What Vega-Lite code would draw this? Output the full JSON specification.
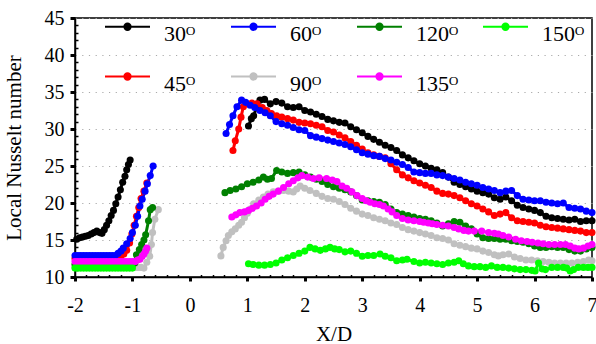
{
"$schema":"https://vega.github.io/schema/vega-lite/v6.json",
"width":517,"height":259,
"autosize":{"type":"none"},
"padding":{"left":75,"top":18,"right":4,"bottom":67},
"config":{"view":{"stroke":"#000","strokeWidth":1.5},"font":"Liberation Serif"},
"data":{"values":[
{"s":"30","g":"L","x":-1.97,"y":15.1},{"s":"30","g":"L","x":-1.92,"y":15.3},{"s":"30","g":"L","x":-1.87,"y":15.4},{"s":"30","g":"L","x":-1.82,"y":15.5},{"s":"30","g":"L","x":-1.77,"y":15.6},{"s":"30","g":"L","x":-1.72,"y":15.8},{"s":"30","g":"L","x":-1.67,"y":16.0},{"s":"30","g":"L","x":-1.62,"y":16.2},{"s":"30","g":"L","x":-1.57,"y":16.0},{"s":"30","g":"L","x":-1.53,"y":15.9},{"s":"30","g":"L","x":-1.49,"y":16.4},{"s":"30","g":"L","x":-1.45,"y":17.0},{"s":"30","g":"L","x":-1.41,"y":17.6},{"s":"30","g":"L","x":-1.37,"y":18.3},{"s":"30","g":"L","x":-1.33,"y":19.0},{"s":"30","g":"L","x":-1.29,"y":19.9},{"s":"30","g":"L","x":-1.25,"y":20.8},{"s":"30","g":"L","x":-1.21,"y":21.8},{"s":"30","g":"L","x":-1.17,"y":22.8},{"s":"30","g":"L","x":-1.13,"y":23.6},{"s":"30","g":"L","x":-1.10,"y":24.5},{"s":"30","g":"L","x":-1.07,"y":25.2},{"s":"30","g":"L","x":-1.04,"y":25.8},
{"s":"30","g":"R","x":1.02,"y":30.4},{"s":"30","g":"R","x":1.07,"y":31.4},{"s":"30","g":"R","x":1.11,"y":31.8},{"s":"30","g":"R","x":1.16,"y":32.9},{"s":"30","g":"R","x":1.22,"y":33.9},{"s":"30","g":"R","x":1.3,"y":34.0},{"s":"30","g":"R","x":1.4,"y":33.4},{"s":"30","g":"R","x":1.5,"y":33.7},{"s":"30","g":"R","x":1.6,"y":33.5},{"s":"30","g":"R","x":1.7,"y":33.0},{"s":"30","g":"R","x":1.8,"y":32.9},{"s":"30","g":"R","x":1.9,"y":33.0},{"s":"30","g":"R","x":2.0,"y":32.5},{"s":"30","g":"R","x":2.1,"y":32.3},{"s":"30","g":"R","x":2.2,"y":32.0},{"s":"30","g":"R","x":2.3,"y":31.7},{"s":"30","g":"R","x":2.4,"y":31.3},{"s":"30","g":"R","x":2.5,"y":31.1},{"s":"30","g":"R","x":2.6,"y":30.9},{"s":"30","g":"R","x":2.7,"y":30.8},{"s":"30","g":"R","x":2.8,"y":30.3},{"s":"30","g":"R","x":2.9,"y":29.9},{"s":"30","g":"R","x":3.0,"y":29.5},{"s":"30","g":"R","x":3.1,"y":29.0},{"s":"30","g":"R","x":3.2,"y":28.6},{"s":"30","g":"R","x":3.3,"y":28.2},{"s":"30","g":"R","x":3.4,"y":27.8},{"s":"30","g":"R","x":3.5,"y":27.5},{"s":"30","g":"R","x":3.6,"y":27.1},{"s":"30","g":"R","x":3.7,"y":26.5},{"s":"30","g":"R","x":3.8,"y":26.1},{"s":"30","g":"R","x":3.9,"y":25.7},{"s":"30","g":"R","x":4.0,"y":25.3},{"s":"30","g":"R","x":4.1,"y":25.0},{"s":"30","g":"R","x":4.2,"y":24.7},{"s":"30","g":"R","x":4.3,"y":24.5},{"s":"30","g":"R","x":4.4,"y":24.1},{"s":"30","g":"R","x":4.5,"y":23.5},{"s":"30","g":"R","x":4.6,"y":22.8},{"s":"30","g":"R","x":4.7,"y":22.5},{"s":"30","g":"R","x":4.8,"y":22.2},{"s":"30","g":"R","x":4.9,"y":21.9},{"s":"30","g":"R","x":5.0,"y":21.6},{"s":"30","g":"R","x":5.1,"y":21.4},{"s":"30","g":"R","x":5.2,"y":21.2},{"s":"30","g":"R","x":5.3,"y":20.7},{"s":"30","g":"R","x":5.4,"y":20.5},{"s":"30","g":"R","x":5.5,"y":20.8},{"s":"30","g":"R","x":5.6,"y":20.3},{"s":"30","g":"R","x":5.7,"y":19.7},{"s":"30","g":"R","x":5.8,"y":19.4},{"s":"30","g":"R","x":5.9,"y":19.2},{"s":"30","g":"R","x":6.0,"y":19.0},{"s":"30","g":"R","x":6.1,"y":18.7},{"s":"30","g":"R","x":6.2,"y":18.2},{"s":"30","g":"R","x":6.3,"y":18.0},{"s":"30","g":"R","x":6.4,"y":17.9},{"s":"30","g":"R","x":6.5,"y":17.8},{"s":"30","g":"R","x":6.6,"y":17.7},{"s":"30","g":"R","x":6.7,"y":17.8},{"s":"30","g":"R","x":6.8,"y":17.5},{"s":"30","g":"R","x":6.9,"y":17.6},{"s":"30","g":"R","x":7.0,"y":17.6},
{"s":"45","g":"L","x":-2,"y":12.5},{"s":"45","g":"L","x":-1.95,"y":12.5},{"s":"45","g":"L","x":-1.9,"y":12.5},{"s":"45","g":"L","x":-1.85,"y":12.5},{"s":"45","g":"L","x":-1.8,"y":12.5},{"s":"45","g":"L","x":-1.75,"y":12.5},{"s":"45","g":"L","x":-1.7,"y":12.5},{"s":"45","g":"L","x":-1.65,"y":12.5},{"s":"45","g":"L","x":-1.6,"y":12.5},{"s":"45","g":"L","x":-1.55,"y":12.5},{"s":"45","g":"L","x":-1.5,"y":12.5},{"s":"45","g":"L","x":-1.45,"y":12.5},{"s":"45","g":"L","x":-1.4,"y":12.5},{"s":"45","g":"L","x":-1.35,"y":12.5},{"s":"45","g":"L","x":-1.3,"y":12.5},{"s":"45","g":"L","x":-1.25,"y":12.5},{"s":"45","g":"L","x":-1.2,"y":12.8},{"s":"45","g":"L","x":-1.15,"y":13.1},{"s":"45","g":"L","x":-1.1,"y":13.6},{"s":"45","g":"L","x":-1.05,"y":14.6},{"s":"45","g":"L","x":-1.01,"y":15.8},{"s":"45","g":"L","x":-0.97,"y":17.0},{"s":"45","g":"L","x":-0.93,"y":18.2},{"s":"45","g":"L","x":-0.89,"y":19.4},{"s":"45","g":"L","x":-0.85,"y":20.6},{"s":"45","g":"L","x":-0.8,"y":21.6},{"s":"45","g":"L","x":-0.75,"y":22.7},
{"s":"45","g":"R","x":0.75,"y":27.1},{"s":"45","g":"R","x":0.79,"y":28.4},{"s":"45","g":"R","x":0.85,"y":30.0},{"s":"45","g":"R","x":0.89,"y":31.6},{"s":"45","g":"R","x":0.93,"y":33.0},{"s":"45","g":"R","x":0.99,"y":33.4},{"s":"45","g":"R","x":1.08,"y":33.5},{"s":"45","g":"R","x":1.17,"y":33.4},{"s":"45","g":"R","x":1.26,"y":32.9},{"s":"45","g":"R","x":1.34,"y":32.5},{"s":"45","g":"R","x":1.42,"y":32.1},{"s":"45","g":"R","x":1.51,"y":31.8},{"s":"45","g":"R","x":1.6,"y":31.6},{"s":"45","g":"R","x":1.7,"y":31.4},{"s":"45","g":"R","x":1.8,"y":31.2},{"s":"45","g":"R","x":1.9,"y":30.9},{"s":"45","g":"R","x":2.0,"y":30.8},{"s":"45","g":"R","x":2.1,"y":30.7},{"s":"45","g":"R","x":2.2,"y":30.5},{"s":"45","g":"R","x":2.3,"y":30.3},{"s":"45","g":"R","x":2.4,"y":29.8},{"s":"45","g":"R","x":2.5,"y":29.6},{"s":"45","g":"R","x":2.6,"y":29.2},{"s":"45","g":"R","x":2.7,"y":28.8},{"s":"45","g":"R","x":2.8,"y":28.3},{"s":"45","g":"R","x":2.9,"y":27.8},{"s":"45","g":"R","x":3.0,"y":27.3},{"s":"45","g":"R","x":3.1,"y":26.8},{"s":"45","g":"R","x":3.2,"y":26.5},{"s":"45","g":"R","x":3.3,"y":26.3},{"s":"45","g":"R","x":3.4,"y":26.1},{"s":"45","g":"R","x":3.5,"y":25.3},{"s":"45","g":"R","x":3.6,"y":24.5},{"s":"45","g":"R","x":3.7,"y":23.8},{"s":"45","g":"R","x":3.8,"y":23.4},{"s":"45","g":"R","x":3.9,"y":23.0},{"s":"45","g":"R","x":4.0,"y":22.7},{"s":"45","g":"R","x":4.1,"y":22.4},{"s":"45","g":"R","x":4.2,"y":22.1},{"s":"45","g":"R","x":4.3,"y":21.6},{"s":"45","g":"R","x":4.4,"y":21.3},{"s":"45","g":"R","x":4.5,"y":21.2},{"s":"45","g":"R","x":4.6,"y":21.0},{"s":"45","g":"R","x":4.7,"y":20.7},{"s":"45","g":"R","x":4.8,"y":20.3},{"s":"45","g":"R","x":4.9,"y":19.9},{"s":"45","g":"R","x":5.0,"y":19.6},{"s":"45","g":"R","x":5.1,"y":19.2},{"s":"45","g":"R","x":5.2,"y":18.8},{"s":"45","g":"R","x":5.3,"y":18.3},{"s":"45","g":"R","x":5.4,"y":18.5},{"s":"45","g":"R","x":5.5,"y":18.7},{"s":"45","g":"R","x":5.6,"y":18.0},{"s":"45","g":"R","x":5.7,"y":17.6},{"s":"45","g":"R","x":5.8,"y":17.5},{"s":"45","g":"R","x":5.9,"y":17.4},{"s":"45","g":"R","x":6.0,"y":17.3},{"s":"45","g":"R","x":6.1,"y":17.0},{"s":"45","g":"R","x":6.2,"y":16.8},{"s":"45","g":"R","x":6.3,"y":16.7},{"s":"45","g":"R","x":6.4,"y":16.6},{"s":"45","g":"R","x":6.5,"y":16.5},{"s":"45","g":"R","x":6.6,"y":16.4},{"s":"45","g":"R","x":6.7,"y":16.3},{"s":"45","g":"R","x":6.8,"y":16.2},{"s":"45","g":"R","x":6.9,"y":16.0},{"s":"45","g":"R","x":7.0,"y":16.0},
{"s":"60","g":"L","x":-2,"y":12.9},{"s":"60","g":"L","x":-1.95,"y":12.9},{"s":"60","g":"L","x":-1.9,"y":12.9},{"s":"60","g":"L","x":-1.85,"y":12.9},{"s":"60","g":"L","x":-1.8,"y":12.9},{"s":"60","g":"L","x":-1.75,"y":12.9},{"s":"60","g":"L","x":-1.7,"y":12.9},{"s":"60","g":"L","x":-1.65,"y":12.9},{"s":"60","g":"L","x":-1.6,"y":12.9},{"s":"60","g":"L","x":-1.55,"y":12.9},{"s":"60","g":"L","x":-1.5,"y":12.9},{"s":"60","g":"L","x":-1.45,"y":12.9},{"s":"60","g":"L","x":-1.4,"y":12.9},{"s":"60","g":"L","x":-1.35,"y":12.9},{"s":"60","g":"L","x":-1.3,"y":12.9},{"s":"60","g":"L","x":-1.25,"y":13.2},{"s":"60","g":"L","x":-1.2,"y":13.5},{"s":"60","g":"L","x":-1.16,"y":13.9},{"s":"60","g":"L","x":-1.1,"y":14.5},{"s":"60","g":"L","x":-1.04,"y":15.2},{"s":"60","g":"L","x":-1.0,"y":16.0},{"s":"60","g":"L","x":-0.95,"y":17.0},{"s":"60","g":"L","x":-0.91,"y":18.2},{"s":"60","g":"L","x":-0.87,"y":19.6},{"s":"60","g":"L","x":-0.83,"y":20.5},{"s":"60","g":"L","x":-0.78,"y":21.6},{"s":"60","g":"L","x":-0.74,"y":22.6},{"s":"60","g":"L","x":-0.69,"y":23.7},{"s":"60","g":"L","x":-0.64,"y":25.0},
{"s":"60","g":"R","x":0.63,"y":29.4},{"s":"60","g":"R","x":0.69,"y":30.6},{"s":"60","g":"R","x":0.75,"y":31.8},{"s":"60","g":"R","x":0.82,"y":33.0},{"s":"60","g":"R","x":0.9,"y":33.9},{"s":"60","g":"R","x":0.97,"y":33.6},{"s":"60","g":"R","x":1.05,"y":33.2},{"s":"60","g":"R","x":1.13,"y":32.9},{"s":"60","g":"R","x":1.22,"y":32.5},{"s":"60","g":"R","x":1.31,"y":32.2},{"s":"60","g":"R","x":1.4,"y":31.8},{"s":"60","g":"R","x":1.5,"y":31.0},{"s":"60","g":"R","x":1.6,"y":30.7},{"s":"60","g":"R","x":1.7,"y":30.5},{"s":"60","g":"R","x":1.8,"y":30.2},{"s":"60","g":"R","x":1.9,"y":29.9},{"s":"60","g":"R","x":2.0,"y":29.8},{"s":"60","g":"R","x":2.1,"y":29.1},{"s":"60","g":"R","x":2.2,"y":28.9},{"s":"60","g":"R","x":2.3,"y":28.7},{"s":"60","g":"R","x":2.4,"y":28.5},{"s":"60","g":"R","x":2.5,"y":28.3},{"s":"60","g":"R","x":2.6,"y":28.1},{"s":"60","g":"R","x":2.7,"y":27.9},{"s":"60","g":"R","x":2.8,"y":27.6},{"s":"60","g":"R","x":2.9,"y":27.2},{"s":"60","g":"R","x":3.0,"y":26.8},{"s":"60","g":"R","x":3.1,"y":26.6},{"s":"60","g":"R","x":3.2,"y":26.4},{"s":"60","g":"R","x":3.3,"y":26.3},{"s":"60","g":"R","x":3.4,"y":26.0},{"s":"60","g":"R","x":3.5,"y":25.8},{"s":"60","g":"R","x":3.6,"y":25.5},{"s":"60","g":"R","x":3.7,"y":25.2},{"s":"60","g":"R","x":3.8,"y":24.8},{"s":"60","g":"R","x":3.9,"y":24.2},{"s":"60","g":"R","x":4.0,"y":24.1},{"s":"60","g":"R","x":4.1,"y":24.0},{"s":"60","g":"R","x":4.2,"y":24.0},{"s":"60","g":"R","x":4.3,"y":23.8},{"s":"60","g":"R","x":4.4,"y":23.7},{"s":"60","g":"R","x":4.5,"y":23.5},{"s":"60","g":"R","x":4.6,"y":23.3},{"s":"60","g":"R","x":4.7,"y":23.1},{"s":"60","g":"R","x":4.8,"y":22.8},{"s":"60","g":"R","x":4.9,"y":22.6},{"s":"60","g":"R","x":5.0,"y":22.4},{"s":"60","g":"R","x":5.1,"y":22.1},{"s":"60","g":"R","x":5.2,"y":21.9},{"s":"60","g":"R","x":5.3,"y":21.7},{"s":"60","g":"R","x":5.4,"y":21.4},{"s":"60","g":"R","x":5.5,"y":21.6},{"s":"60","g":"R","x":5.6,"y":21.7},{"s":"60","g":"R","x":5.7,"y":21.0},{"s":"60","g":"R","x":5.8,"y":20.5},{"s":"60","g":"R","x":5.9,"y":20.4},{"s":"60","g":"R","x":6.0,"y":20.3},{"s":"60","g":"R","x":6.1,"y":20.3},{"s":"60","g":"R","x":6.2,"y":20.1},{"s":"60","g":"R","x":6.3,"y":20.0},{"s":"60","g":"R","x":6.4,"y":19.9},{"s":"60","g":"R","x":6.5,"y":20.0},{"s":"60","g":"R","x":6.6,"y":19.4},{"s":"60","g":"R","x":6.7,"y":19.3},{"s":"60","g":"R","x":6.8,"y":19.2},{"s":"60","g":"R","x":6.9,"y":18.9},{"s":"60","g":"R","x":7.0,"y":18.7},
{"s":"90","g":"L","x":-2,"y":11.3},{"s":"90","g":"L","x":-1.95,"y":11.3},{"s":"90","g":"L","x":-1.9,"y":11.3},{"s":"90","g":"L","x":-1.85,"y":11.3},{"s":"90","g":"L","x":-1.8,"y":11.3},{"s":"90","g":"L","x":-1.75,"y":11.3},{"s":"90","g":"L","x":-1.7,"y":11.3},{"s":"90","g":"L","x":-1.65,"y":11.3},{"s":"90","g":"L","x":-1.6,"y":11.3},{"s":"90","g":"L","x":-1.55,"y":11.3},{"s":"90","g":"L","x":-1.5,"y":11.3},{"s":"90","g":"L","x":-1.45,"y":11.3},{"s":"90","g":"L","x":-1.4,"y":11.3},{"s":"90","g":"L","x":-1.35,"y":11.3},{"s":"90","g":"L","x":-1.3,"y":11.3},{"s":"90","g":"L","x":-1.25,"y":11.3},{"s":"90","g":"L","x":-1.2,"y":11.3},{"s":"90","g":"L","x":-1.15,"y":11.3},{"s":"90","g":"L","x":-1.1,"y":11.3},{"s":"90","g":"L","x":-1.05,"y":11.3},{"s":"90","g":"L","x":-1.0,"y":11.3},{"s":"90","g":"L","x":-0.95,"y":11.3},{"s":"90","g":"L","x":-0.9,"y":11.3},{"s":"90","g":"L","x":-0.85,"y":11.3},{"s":"90","g":"L","x":-0.8,"y":11.2},{"s":"90","g":"L","x":-0.75,"y":12.0},{"s":"90","g":"L","x":-0.7,"y":12.8},{"s":"90","g":"L","x":-0.67,"y":14.4},{"s":"90","g":"L","x":-0.65,"y":16.0},{"s":"90","g":"L","x":-0.61,"y":17.8},{"s":"90","g":"L","x":-0.55,"y":19.1},
{"s":"90","g":"R","x":0.54,"y":12.85},{"s":"90","g":"R","x":0.58,"y":14.0},{"s":"90","g":"R","x":0.63,"y":14.9},{"s":"90","g":"R","x":0.67,"y":15.6},{"s":"90","g":"R","x":0.73,"y":16.1},{"s":"90","g":"R","x":0.79,"y":16.5},{"s":"90","g":"R","x":0.85,"y":17.0},{"s":"90","g":"R","x":0.9,"y":17.4},{"s":"90","g":"R","x":0.95,"y":18.0},{"s":"90","g":"R","x":1.0,"y":18.6},{"s":"90","g":"R","x":1.05,"y":19.2},{"s":"90","g":"R","x":1.11,"y":19.9},{"s":"90","g":"R","x":1.2,"y":20.4},{"s":"90","g":"R","x":1.28,"y":20.8},{"s":"90","g":"R","x":1.36,"y":21.2},{"s":"90","g":"R","x":1.45,"y":21.5},{"s":"90","g":"R","x":1.54,"y":21.6},{"s":"90","g":"R","x":1.63,"y":21.7},{"s":"90","g":"R","x":1.72,"y":21.6},{"s":"90","g":"R","x":1.8,"y":21.5},{"s":"90","g":"R","x":1.86,"y":21.9},{"s":"90","g":"R","x":1.92,"y":22.3},{"s":"90","g":"R","x":2.0,"y":22.0},{"s":"90","g":"R","x":2.09,"y":21.7},{"s":"90","g":"R","x":2.2,"y":21.3},{"s":"90","g":"R","x":2.3,"y":20.9},{"s":"90","g":"R","x":2.4,"y":20.6},{"s":"90","g":"R","x":2.5,"y":20.5},{"s":"90","g":"R","x":2.6,"y":20.2},{"s":"90","g":"R","x":2.7,"y":19.8},{"s":"90","g":"R","x":2.8,"y":19.3},{"s":"90","g":"R","x":2.9,"y":18.9},{"s":"90","g":"R","x":3.0,"y":18.5},{"s":"90","g":"R","x":3.1,"y":18.3},{"s":"90","g":"R","x":3.2,"y":18.0},{"s":"90","g":"R","x":3.3,"y":17.8},{"s":"90","g":"R","x":3.4,"y":17.6},{"s":"90","g":"R","x":3.5,"y":17.3},{"s":"90","g":"R","x":3.6,"y":17.1},{"s":"90","g":"R","x":3.7,"y":16.7},{"s":"90","g":"R","x":3.8,"y":16.4},{"s":"90","g":"R","x":3.9,"y":16.2},{"s":"90","g":"R","x":4.0,"y":16.0},{"s":"90","g":"R","x":4.1,"y":15.8},{"s":"90","g":"R","x":4.2,"y":15.6},{"s":"90","g":"R","x":4.3,"y":15.3},{"s":"90","g":"R","x":4.4,"y":15.2},{"s":"90","g":"R","x":4.5,"y":15.0},{"s":"90","g":"R","x":4.6,"y":14.5},{"s":"90","g":"R","x":4.7,"y":14.3},{"s":"90","g":"R","x":4.8,"y":14.1},{"s":"90","g":"R","x":4.9,"y":13.9},{"s":"90","g":"R","x":5.0,"y":13.8},{"s":"90","g":"R","x":5.1,"y":13.5},{"s":"90","g":"R","x":5.2,"y":13.3},{"s":"90","g":"R","x":5.3,"y":13.0},{"s":"90","g":"R","x":5.37,"y":12.85},{"s":"90","g":"R","x":5.45,"y":13.0},{"s":"90","g":"R","x":5.55,"y":13.1},{"s":"90","g":"R","x":5.65,"y":12.7},{"s":"90","g":"R","x":5.75,"y":12.5},{"s":"90","g":"R","x":5.85,"y":12.3},{"s":"90","g":"R","x":5.95,"y":12.3},{"s":"90","g":"R","x":6.05,"y":12.2},{"s":"90","g":"R","x":6.15,"y":12.1},{"s":"90","g":"R","x":6.25,"y":12.0},{"s":"90","g":"R","x":6.35,"y":11.9},{"s":"90","g":"R","x":6.45,"y":11.9},{"s":"90","g":"R","x":6.55,"y":11.9},{"s":"90","g":"R","x":6.65,"y":11.9},{"s":"90","g":"R","x":6.75,"y":12.0},{"s":"90","g":"R","x":6.85,"y":12.1},{"s":"90","g":"R","x":6.94,"y":12.3},{"s":"90","g":"R","x":7.0,"y":12.2},
{"s":"120","g":"L","x":-2,"y":11.7},{"s":"120","g":"L","x":-1.95,"y":11.7},{"s":"120","g":"L","x":-1.9,"y":11.7},{"s":"120","g":"L","x":-1.85,"y":11.7},{"s":"120","g":"L","x":-1.8,"y":11.7},{"s":"120","g":"L","x":-1.75,"y":11.7},{"s":"120","g":"L","x":-1.7,"y":11.7},{"s":"120","g":"L","x":-1.65,"y":11.7},{"s":"120","g":"L","x":-1.6,"y":11.7},{"s":"120","g":"L","x":-1.55,"y":11.7},{"s":"120","g":"L","x":-1.5,"y":11.7},{"s":"120","g":"L","x":-1.45,"y":11.7},{"s":"120","g":"L","x":-1.4,"y":11.7},{"s":"120","g":"L","x":-1.35,"y":11.7},{"s":"120","g":"L","x":-1.3,"y":11.7},{"s":"120","g":"L","x":-1.25,"y":11.7},{"s":"120","g":"L","x":-1.2,"y":11.7},{"s":"120","g":"L","x":-1.15,"y":11.7},{"s":"120","g":"L","x":-1.1,"y":11.7},{"s":"120","g":"L","x":-1.05,"y":11.7},{"s":"120","g":"L","x":-1.0,"y":11.7},{"s":"120","g":"L","x":-0.96,"y":11.9},{"s":"120","g":"L","x":-0.93,"y":13.0},{"s":"120","g":"L","x":-0.88,"y":13.7},{"s":"120","g":"L","x":-0.84,"y":14.4},{"s":"120","g":"L","x":-0.8,"y":15.0},{"s":"120","g":"L","x":-0.77,"y":15.7},{"s":"120","g":"L","x":-0.72,"y":17.6},{"s":"120","g":"L","x":-0.69,"y":19.1},{"s":"120","g":"L","x":-0.65,"y":19.4},
{"s":"120","g":"R","x":0.61,"y":21.4},{"s":"120","g":"R","x":0.7,"y":21.7},{"s":"120","g":"R","x":0.8,"y":21.9},{"s":"120","g":"R","x":0.9,"y":22.2},{"s":"120","g":"R","x":1.0,"y":22.6},{"s":"120","g":"R","x":1.1,"y":22.8},{"s":"120","g":"R","x":1.2,"y":23.1},{"s":"120","g":"R","x":1.28,"y":23.5},{"s":"120","g":"R","x":1.35,"y":23.2},{"s":"120","g":"R","x":1.42,"y":23.3},{"s":"120","g":"R","x":1.51,"y":24.4},{"s":"120","g":"R","x":1.6,"y":24.2},{"s":"120","g":"R","x":1.7,"y":24.0},{"s":"120","g":"R","x":1.8,"y":24.1},{"s":"120","g":"R","x":1.9,"y":24.2},{"s":"120","g":"R","x":2.0,"y":23.8},{"s":"120","g":"R","x":2.1,"y":23.5},{"s":"120","g":"R","x":2.2,"y":23.2},{"s":"120","g":"R","x":2.3,"y":22.9},{"s":"120","g":"R","x":2.4,"y":22.5},{"s":"120","g":"R","x":2.5,"y":22.2},{"s":"120","g":"R","x":2.6,"y":22.0},{"s":"120","g":"R","x":2.7,"y":21.8},{"s":"120","g":"R","x":2.8,"y":21.5},{"s":"120","g":"R","x":2.9,"y":21.0},{"s":"120","g":"R","x":3.0,"y":20.4},{"s":"120","g":"R","x":3.1,"y":20.3},{"s":"120","g":"R","x":3.2,"y":20.2},{"s":"120","g":"R","x":3.3,"y":20.1},{"s":"120","g":"R","x":3.4,"y":19.8},{"s":"120","g":"R","x":3.5,"y":19.2},{"s":"120","g":"R","x":3.6,"y":18.7},{"s":"120","g":"R","x":3.7,"y":18.5},{"s":"120","g":"R","x":3.8,"y":18.3},{"s":"120","g":"R","x":3.9,"y":18.1},{"s":"120","g":"R","x":4.0,"y":17.9},{"s":"120","g":"R","x":4.1,"y":17.8},{"s":"120","g":"R","x":4.2,"y":17.6},{"s":"120","g":"R","x":4.3,"y":17.3},{"s":"120","g":"R","x":4.4,"y":16.9},{"s":"120","g":"R","x":4.5,"y":17.2},{"s":"120","g":"R","x":4.6,"y":17.5},{"s":"120","g":"R","x":4.7,"y":17.4},{"s":"120","g":"R","x":4.8,"y":16.9},{"s":"120","g":"R","x":4.9,"y":16.5},{"s":"120","g":"R","x":5.0,"y":15.8},{"s":"120","g":"R","x":5.1,"y":15.3},{"s":"120","g":"R","x":5.2,"y":15.2},{"s":"120","g":"R","x":5.3,"y":15.2},{"s":"120","g":"R","x":5.4,"y":15.1},{"s":"120","g":"R","x":5.5,"y":15.1},{"s":"120","g":"R","x":5.6,"y":14.9},{"s":"120","g":"R","x":5.7,"y":14.8},{"s":"120","g":"R","x":5.8,"y":14.7},{"s":"120","g":"R","x":5.9,"y":14.5},{"s":"120","g":"R","x":6.0,"y":14.2},{"s":"120","g":"R","x":6.1,"y":14.0},{"s":"120","g":"R","x":6.2,"y":14.0},{"s":"120","g":"R","x":6.3,"y":14.1},{"s":"120","g":"R","x":6.4,"y":14.0},{"s":"120","g":"R","x":6.5,"y":14.0},{"s":"120","g":"R","x":6.6,"y":13.7},{"s":"120","g":"R","x":6.7,"y":13.5},{"s":"120","g":"R","x":6.8,"y":13.5},{"s":"120","g":"R","x":6.9,"y":13.8},{"s":"120","g":"R","x":7.0,"y":14.0},
{"s":"135","g":"L","x":-2,"y":12.1},{"s":"135","g":"L","x":-1.95,"y":12.1},{"s":"135","g":"L","x":-1.9,"y":12.1},{"s":"135","g":"L","x":-1.85,"y":12.1},{"s":"135","g":"L","x":-1.8,"y":12.1},{"s":"135","g":"L","x":-1.75,"y":12.1},{"s":"135","g":"L","x":-1.7,"y":12.1},{"s":"135","g":"L","x":-1.65,"y":12.1},{"s":"135","g":"L","x":-1.6,"y":12.1},{"s":"135","g":"L","x":-1.55,"y":12.1},{"s":"135","g":"L","x":-1.5,"y":12.1},{"s":"135","g":"L","x":-1.45,"y":12.1},{"s":"135","g":"L","x":-1.4,"y":12.1},{"s":"135","g":"L","x":-1.35,"y":12.1},{"s":"135","g":"L","x":-1.3,"y":12.1},{"s":"135","g":"L","x":-1.25,"y":12.1},{"s":"135","g":"L","x":-1.2,"y":12.1},{"s":"135","g":"L","x":-1.15,"y":12.1},{"s":"135","g":"L","x":-1.1,"y":12.1},{"s":"135","g":"L","x":-1.05,"y":12.1},{"s":"135","g":"L","x":-1.0,"y":12.1},{"s":"135","g":"L","x":-0.95,"y":12.1},{"s":"135","g":"L","x":-0.91,"y":12.3},{"s":"135","g":"L","x":-0.87,"y":12.4},{"s":"135","g":"L","x":-0.83,"y":12.8},{"s":"135","g":"L","x":-0.8,"y":13.1},{"s":"135","g":"L","x":-0.77,"y":13.5},{"s":"135","g":"L","x":-0.75,"y":13.9},
{"s":"135","g":"R","x":0.73,"y":18.1},{"s":"135","g":"R","x":0.8,"y":18.4},{"s":"135","g":"R","x":0.87,"y":18.7},{"s":"135","g":"R","x":0.95,"y":18.8},{"s":"135","g":"R","x":1.02,"y":19.0},{"s":"135","g":"R","x":1.09,"y":19.3},{"s":"135","g":"R","x":1.16,"y":19.6},{"s":"135","g":"R","x":1.24,"y":20.0},{"s":"135","g":"R","x":1.31,"y":20.5},{"s":"135","g":"R","x":1.38,"y":20.9},{"s":"135","g":"R","x":1.45,"y":21.2},{"s":"135","g":"R","x":1.54,"y":21.6},{"s":"135","g":"R","x":1.63,"y":22.1},{"s":"135","g":"R","x":1.72,"y":22.6},{"s":"135","g":"R","x":1.8,"y":23.0},{"s":"135","g":"R","x":1.88,"y":23.4},{"s":"135","g":"R","x":1.95,"y":23.7},{"s":"135","g":"R","x":2.05,"y":23.5},{"s":"135","g":"R","x":2.15,"y":23.3},{"s":"135","g":"R","x":2.25,"y":23.4},{"s":"135","g":"R","x":2.38,"y":23.3},{"s":"135","g":"R","x":2.48,"y":23.1},{"s":"135","g":"R","x":2.56,"y":22.9},{"s":"135","g":"R","x":2.65,"y":22.3},{"s":"135","g":"R","x":2.73,"y":22.0},{"s":"135","g":"R","x":2.82,"y":21.5},{"s":"135","g":"R","x":2.91,"y":21.0},{"s":"135","g":"R","x":3.0,"y":20.6},{"s":"135","g":"R","x":3.07,"y":20.3},{"s":"135","g":"R","x":3.14,"y":20.1},{"s":"135","g":"R","x":3.22,"y":19.9},{"s":"135","g":"R","x":3.3,"y":19.8},{"s":"135","g":"R","x":3.37,"y":19.6},{"s":"135","g":"R","x":3.45,"y":19.2},{"s":"135","g":"R","x":3.52,"y":18.8},{"s":"135","g":"R","x":3.6,"y":18.3},{"s":"135","g":"R","x":3.7,"y":17.9},{"s":"135","g":"R","x":3.8,"y":17.7},{"s":"135","g":"R","x":3.9,"y":17.6},{"s":"135","g":"R","x":4.0,"y":17.5},{"s":"135","g":"R","x":4.07,"y":17.4},{"s":"135","g":"R","x":4.15,"y":17.3},{"s":"135","g":"R","x":4.22,"y":17.2},{"s":"135","g":"R","x":4.3,"y":17.1},{"s":"135","g":"R","x":4.4,"y":17.0},{"s":"135","g":"R","x":4.5,"y":16.9},{"s":"135","g":"R","x":4.6,"y":16.7},{"s":"135","g":"R","x":4.68,"y":16.5},{"s":"135","g":"R","x":4.77,"y":16.3},{"s":"135","g":"R","x":4.85,"y":16.2},{"s":"135","g":"R","x":4.95,"y":16.2},{"s":"135","g":"R","x":5.08,"y":16.2},{"s":"135","g":"R","x":5.2,"y":16.0},{"s":"135","g":"R","x":5.3,"y":15.9},{"s":"135","g":"R","x":5.37,"y":15.8},{"s":"135","g":"R","x":5.45,"y":15.6},{"s":"135","g":"R","x":5.55,"y":15.4},{"s":"135","g":"R","x":5.67,"y":15.1},{"s":"135","g":"R","x":5.77,"y":14.9},{"s":"135","g":"R","x":5.87,"y":14.8},{"s":"135","g":"R","x":5.96,"y":14.7},{"s":"135","g":"R","x":6.06,"y":14.6},{"s":"135","g":"R","x":6.15,"y":14.5},{"s":"135","g":"R","x":6.25,"y":14.4},{"s":"135","g":"R","x":6.35,"y":14.4},{"s":"135","g":"R","x":6.45,"y":14.4},{"s":"135","g":"R","x":6.54,"y":14.4},{"s":"135","g":"R","x":6.62,"y":14.2},{"s":"135","g":"R","x":6.7,"y":13.9},{"s":"135","g":"R","x":6.77,"y":13.8},{"s":"135","g":"R","x":6.85,"y":13.9},{"s":"135","g":"R","x":6.93,"y":14.2},{"s":"135","g":"R","x":7.0,"y":14.4},
{"s":"150","g":"L","x":-2,"y":11.2},{"s":"150","g":"L","x":-1.95,"y":11.2},{"s":"150","g":"L","x":-1.9,"y":11.2},{"s":"150","g":"L","x":-1.85,"y":11.2},{"s":"150","g":"L","x":-1.8,"y":11.2},{"s":"150","g":"L","x":-1.75,"y":11.2},{"s":"150","g":"L","x":-1.7,"y":11.2},{"s":"150","g":"L","x":-1.65,"y":11.2},{"s":"150","g":"L","x":-1.6,"y":11.2},{"s":"150","g":"L","x":-1.55,"y":11.2},{"s":"150","g":"L","x":-1.5,"y":11.2},{"s":"150","g":"L","x":-1.45,"y":11.2},{"s":"150","g":"L","x":-1.4,"y":11.2},{"s":"150","g":"L","x":-1.35,"y":11.2},{"s":"150","g":"L","x":-1.3,"y":11.2},{"s":"150","g":"L","x":-1.25,"y":11.2},{"s":"150","g":"L","x":-1.2,"y":11.2},{"s":"150","g":"L","x":-1.15,"y":11.2},{"s":"150","g":"L","x":-1.1,"y":11.2},{"s":"150","g":"L","x":-1.05,"y":11.2},{"s":"150","g":"L","x":-1.0,"y":11.2},
{"s":"150","g":"R","x":1.02,"y":11.8},{"s":"150","g":"R","x":1.1,"y":11.7},{"s":"150","g":"R","x":1.2,"y":11.6},{"s":"150","g":"R","x":1.3,"y":11.6},{"s":"150","g":"R","x":1.4,"y":11.7},{"s":"150","g":"R","x":1.5,"y":11.9},{"s":"150","g":"R","x":1.6,"y":12.3},{"s":"150","g":"R","x":1.7,"y":12.6},{"s":"150","g":"R","x":1.8,"y":12.9},{"s":"150","g":"R","x":1.9,"y":13.2},{"s":"150","g":"R","x":2.0,"y":13.5},{"s":"150","g":"R","x":2.09,"y":14.0},{"s":"150","g":"R","x":2.18,"y":13.8},{"s":"150","g":"R","x":2.27,"y":13.6},{"s":"150","g":"R","x":2.36,"y":13.8},{"s":"150","g":"R","x":2.44,"y":14.0},{"s":"150","g":"R","x":2.52,"y":13.8},{"s":"150","g":"R","x":2.6,"y":13.7},{"s":"150","g":"R","x":2.7,"y":13.4},{"s":"150","g":"R","x":2.8,"y":13.5},{"s":"150","g":"R","x":2.9,"y":13.2},{"s":"150","g":"R","x":3.0,"y":12.8},{"s":"150","g":"R","x":3.1,"y":12.9},{"s":"150","g":"R","x":3.2,"y":12.9},{"s":"150","g":"R","x":3.31,"y":13.1},{"s":"150","g":"R","x":3.4,"y":12.8},{"s":"150","g":"R","x":3.5,"y":12.6},{"s":"150","g":"R","x":3.6,"y":12.2},{"s":"150","g":"R","x":3.7,"y":12.3},{"s":"150","g":"R","x":3.78,"y":12.4},{"s":"150","g":"R","x":3.9,"y":12.1},{"s":"150","g":"R","x":4.0,"y":11.9},{"s":"150","g":"R","x":4.1,"y":12.0},{"s":"150","g":"R","x":4.2,"y":11.9},{"s":"150","g":"R","x":4.3,"y":11.8},{"s":"150","g":"R","x":4.4,"y":11.7},{"s":"150","g":"R","x":4.5,"y":11.9},{"s":"150","g":"R","x":4.6,"y":12.0},{"s":"150","g":"R","x":4.68,"y":12.2},{"s":"150","g":"R","x":4.76,"y":11.8},{"s":"150","g":"R","x":4.85,"y":11.5},{"s":"150","g":"R","x":4.95,"y":11.4},{"s":"150","g":"R","x":5.05,"y":11.4},{"s":"150","g":"R","x":5.15,"y":11.3},{"s":"150","g":"R","x":5.25,"y":11.5},{"s":"150","g":"R","x":5.35,"y":11.3},{"s":"150","g":"R","x":5.45,"y":11.3},{"s":"150","g":"R","x":5.55,"y":11.2},{"s":"150","g":"R","x":5.65,"y":11.1},{"s":"150","g":"R","x":5.75,"y":11.0},{"s":"150","g":"R","x":5.85,"y":11.0},{"s":"150","g":"R","x":5.95,"y":10.9},{"s":"150","g":"R","x":6.01,"y":10.8},{"s":"150","g":"R","x":6.07,"y":11.9},{"s":"150","g":"R","x":6.13,"y":11.1},{"s":"150","g":"R","x":6.19,"y":11.0},{"s":"150","g":"R","x":6.3,"y":11.3},{"s":"150","g":"R","x":6.4,"y":11.3},{"s":"150","g":"R","x":6.5,"y":11.3},{"s":"150","g":"R","x":6.56,"y":11.2},{"s":"150","g":"R","x":6.62,"y":10.8},{"s":"150","g":"R","x":6.68,"y":11.0},{"s":"150","g":"R","x":6.76,"y":11.3},{"s":"150","g":"R","x":6.85,"y":11.3},{"s":"150","g":"R","x":6.93,"y":11.3},{"s":"150","g":"R","x":7.0,"y":11.3}
]},
"encoding":{
"x":{"field":"x","type":"quantitative","title":"X/D",
"scale":{"domain":[-2,7],"nice":false,"zero":false},
"axis":{"values":[-2,-1.8,-1.6,-1.4,-1.2,-1,-0.8,-0.6,-0.4,-0.2,0,0.2,0.4,0.6,0.8,1,1.2,1.4,1.6,1.8,2,2.2,2.4,2.6,2.8,3,3.2,3.4,3.6,3.8,4,4.2,4.4,4.6,4.8,5,5.2,5.4,5.6,5.8,6,6.2,6.4,6.6,6.8,7],
"labelExpr":"datum.value % 1 === 0 ? '' + datum.value : ''",
"grid":false,"domainColor":"#000","domainWidth":1.5,"tickColor":"#000",
"tickSize":{"condition":{"test":"datum.value % 1 === 0","value":4},"value":-2.5},
"tickWidth":{"condition":{"test":"datum.value % 1 === 0","value":3},"value":1.5},
"labelFont":"Liberation Serif","labelFontSize":20,"labelColor":"#000","labelPadding":14,"labelFlush":false,"labelOverlap":false,
"titleFont":"Liberation Serif","titleFontSize":21,"titleFontWeight":"normal","titleColor":"#000","titlePadding":8}},
"y":{"field":"y","type":"quantitative","title":"Local Nusselt number",
"scale":{"domain":[10,45],"nice":false,"zero":false},
"axis":{"values":[10,11,12,13,14,15,16,17,18,19,20,21,22,23,24,25,26,27,28,29,30,31,32,33,34,35,36,37,38,39,40,41,42,43,44,45],
"labelExpr":"datum.value % 5 === 0 ? '' + datum.value : ''",
"grid":true,"gridColor":"#aaaaaa","gridDash":[1.2,5.5],"gridWidth":1,
"gridOpacity":{"condition":{"test":"datum.value % 5 === 0","value":1},"value":0},
"domainColor":"#000","domainWidth":1.5,"tickColor":"#000",
"tickSize":{"condition":{"test":"datum.value % 5 === 0","value":5},"value":-3},
"tickWidth":{"condition":{"test":"datum.value % 5 === 0","value":3},"value":1.5},
"labelFont":"Liberation Serif","labelFontSize":20,"labelColor":"#000","labelPadding":6,"labelFlush":false,"labelOverlap":false,
"titleFont":"Liberation Serif","titleFontSize":21,"titleFontWeight":"normal","titleColor":"#000","titlePadding":20}},
"color":{"field":"s","type":"nominal",
"scale":{"domain":["30","45","60","90","120","135","150"],"range":["#000000","#ff0000","#0000ff","#c0c0c0","#008000","#ff00ff","#00ff00"]},
"legend":{"orient":"none","legendX":29,"legendY":-15,"columns":4,"gridAlign":"all","title":null,"padding":0,
"symbolType":"M-1,0H1M-0.14,0A0.14,0.14,0,1,0,0.14,0A0.14,0.14,0,1,0,-0.14,0Z","symbolSize":2025,"symbolStrokeWidth":2,
"labelFont":"Liberation Serif","labelFontSize":22,"labelColor":"#000","labelOffset":13,"columnPadding":20,"rowPadding":8,
"labelExpr":"datum.label + 'ᴼ'",
"encode":{"symbols":{"update":{"fill":{"scale":"color","field":"value"},"stroke":{"scale":"color","field":"value"},"strokeWidth":{"value":2},"opacity":{"value":1}}},"labels":{"update":{"dy":{"value":7}}}}}},
"detail":{"field":"g"}
},
"layer":[
{"mark":{"type":"line","strokeWidth":3}},
{"mark":{"type":"point","filled":true,"size":50,"opacity":1}}
]
}
